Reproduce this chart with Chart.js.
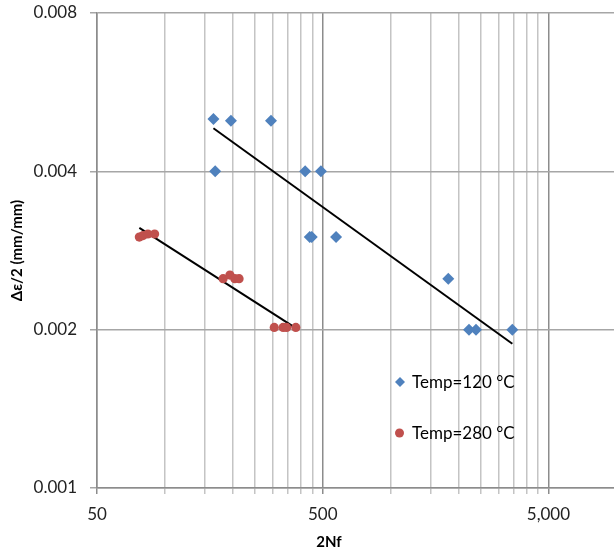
<!DOCTYPE html>
<html>
<head>
<meta charset="utf-8">
<script src="https://cdn.jsdelivr.net/npm/chart.js@4"></script>
<style>
  html, body { margin: 0; padding: 0; background: #fff; }
  #wrap { width: 614px; height: 550px; }
</style>
</head>
<body>
<div id="wrap"><canvas id="fatigue"></canvas></div>
<script>
// cycles to failure (2Nf) and strain amplitude
const cycles120 = [164, 196, 295, 167, 418, 491, 438, 447, 573, 1800, 2224, 2388, 3460];
const strain120 = [0.00503, 0.00499, 0.00499, 0.004, 0.004, 0.004, 0.003, 0.003, 0.003, 0.0025, 0.002, 0.002, 0.002];
const cycles280 = [77, 80, 84, 90, 181, 194, 204, 213, 305, 334, 346, 380];
const strain280 = [0.003, 0.00302, 0.00304, 0.00304, 0.0025, 0.00254, 0.0025, 0.0025, 0.00202, 0.00202, 0.00202, 0.00202];

const xTicks = [50, 100, 150, 200, 250, 300, 350, 400, 450, 500,
                1000, 1500, 2000, 2500, 3000, 3500, 4000, 4500, 5000];
const xLabelled = [50, 500, 5000];
const yTicks = [0.001, 0.002, 0.004, 0.008];

const legendNames = ['Temp=120 °C', 'Temp=280 °C'];
const BLUE = '#4F81BD';
const RED = '#C0504D';
const FONT = 'Lato, "Liberation Sans", sans-serif';

function pts(xs, ys) {
  return xs.map((x, i) => ({ x: x, y: ys[i] }));
}

// power trendline (least squares in log-log), drawn from min to max x
function powerFit(xs, ys) {
  const lx = xs.map(Math.log), ly = ys.map(Math.log);
  const n = xs.length;
  const mx = lx.reduce((a, b) => a + b, 0) / n;
  const my = ly.reduce((a, b) => a + b, 0) / n;
  let sxy = 0, sxx = 0;
  for (let i = 0; i < n; i++) {
    sxy += (lx[i] - mx) * (ly[i] - my);
    sxx += (lx[i] - mx) * (lx[i] - mx);
  }
  const b = sxy / sxx, a = my - b * mx;
  const x0 = Math.min(...xs), x1 = Math.max(...xs);
  return [x0, x1].map(x => ({ x: x, y: Math.exp(a + b * Math.log(x)) }));
}

const extras = {
  id: 'extras',
  afterDraw(chart) {
    const c = chart.ctx;
    c.save();
    // x axis title
    c.fillStyle = '#000';
    c.font = 'bold 15px ' + FONT;
    c.textAlign = 'center';
    c.textBaseline = 'middle';
    c.fillText('2Nf', 329, 542);

    // legend inside plot
    c.font = '17px ' + FONT;
    c.textAlign = 'left';
    const rows = [382, 433];
    rows.forEach((y, i) => {
      c.fillStyle = i === 0 ? BLUE : RED;
      c.beginPath();
      if (i === 0) {
        c.moveTo(400, y - 5); c.lineTo(405, y); c.lineTo(400, y + 5); c.lineTo(395, y);
        c.closePath();
      } else {
        c.arc(399.5, y, 4.5, 0, Math.PI * 2);
      }
      c.fill();
      c.fillStyle = '#000';
      c.fillText(legendNames[i], 412, y + 1);
    });
    c.restore();
  }
};

new Chart(document.getElementById('fatigue'), {
  type: 'scatter',
  data: {
    datasets: [
      {
        label: legendNames[0],
        data: pts(cycles120, strain120),
        pointStyle: 'rectRot',
        pointRadius: 6,
        backgroundColor: BLUE,
        borderColor: BLUE,
        borderWidth: 0
      },
      {
        label: legendNames[1],
        data: pts(cycles280, strain280),
        pointStyle: 'circle',
        pointRadius: 4.6,
        backgroundColor: RED,
        borderColor: RED,
        borderWidth: 0
      },
      {
        label: 'fit120',
        type: 'line',
        data: powerFit(cycles120, strain120),
        borderColor: '#000',
        borderWidth: 2,
        pointRadius: 0
      },
      {
        label: 'fit280',
        type: 'line',
        data: powerFit(cycles280, strain280),
        borderColor: '#000',
        borderWidth: 2,
        pointRadius: 0
      }
    ]
  },
  options: {
    responsive: true,
    maintainAspectRatio: false,
    animation: false,
    layout: { autoPadding: false, padding: { top: 13, right: 0, left: 0, bottom: 0 } },
    plugins: {
      legend: { display: false },
      tooltip: { enabled: false }
    },
    scales: {
      x: {
        type: 'logarithmic',
        min: 50,
        max: 9760,
        afterBuildTicks: s => { s.ticks = xTicks.map(v => ({ value: v })); },
        afterFit: s => { s.height = 62; s.paddingLeft = 0; s.paddingRight = 0; },
        border: { color: '#8C8C8C', width: 1.5 },
        grid: {
          color: ctx => xLabelled.includes(ctx.tick && ctx.tick.value) ? '#8C8C8C' : '#C4C4C4',
          lineWidth: 1.5,
          tickLength: 6
        },
        ticks: {
          autoSkip: false,
          maxRotation: 0,
          padding: 10,
          color: '#222',
          font: { family: FONT, size: 17 },
          callback: v => xLabelled.includes(v) ? v.toLocaleString('en-US') : ''
        }
      },
      y: {
        type: 'logarithmic',
        min: 0.001,
        max: 0.008,
        afterBuildTicks: s => { s.ticks = yTicks.map(v => ({ value: v })); },
        afterFit: s => { s.width = 97; s.paddingTop = 0; s.paddingBottom = 0; },
        border: { color: '#8C8C8C', width: 1.5 },
        grid: { color: '#A6A6A6', lineWidth: 1.5, tickLength: 7 },
        ticks: {
          padding: 13,
          color: '#222',
          font: { family: FONT, size: 17 },
          callback: v => Number(v).toFixed(3)
        },
        title: {
          display: true,
          text: 'Δε/2 (mm/mm)',
          color: '#000',
          font: { family: FONT, size: 15, weight: 'bold' },
          padding: { top: 8, bottom: 0 }
        }
      }
    }
  },
  plugins: [extras]
});
</script>
</body>
</html>
